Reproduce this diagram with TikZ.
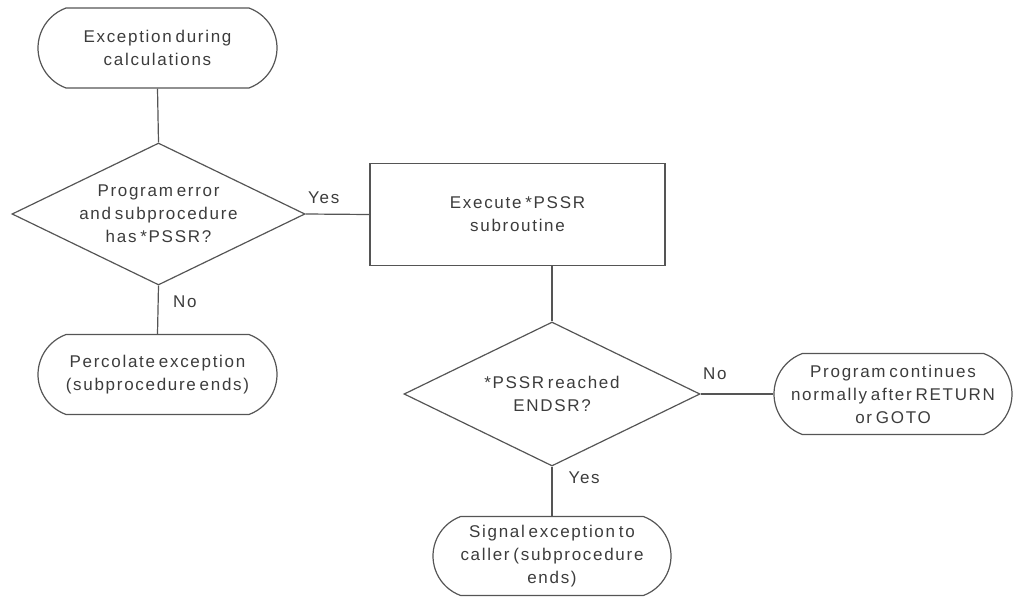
\documentclass[tikz,border=0pt]{standalone}
\usepackage{fontspec}
\setmainfont{Liberation Sans}[LetterSpace=10,WordSpace=0.6]
\usetikzlibrary{shapes.geometric,shapes.misc}
\definecolor{ink}{RGB}{85,85,85}
\definecolor{txt}{RGB}{60,60,60}

\begin{document}
\begin{tikzpicture}[x=1pt,y=-1pt,
  every node/.style={text=txt, font=\fontsize{17}{23}\selectfont},
  terminal/.style={draw=ink, line width=1.2pt, rounded rectangle,
    rounded rectangle arc length=140, minimum width=239pt,
    minimum height=80pt, inner sep=0pt, align=center},
  decision/.style={draw=ink, line width=1.2pt, diamond, aspect=2,
    inner sep=0pt, align=center},
  process/.style={draw=ink, line width=1.2pt, rectangle,
    minimum width=295pt, minimum height=102pt, inner sep=0pt, align=center},
  link/.style={draw=ink, line width=1.2pt},
  answer/.style={inner sep=0pt}
]
\useasboundingbox (0,0) rectangle (1017,597);

% flowchart boxes
\node[terminal] (start) at (157.5,48) {Exception during\\calculations};
\node[decision, minimum width=293pt, minimum height=142pt] (d1) at (158.5,214)
  {Program error\\and subprocedure\\has *PSSR?};
\node[process] (pssr) at (517.5,214.5) {Execute *PSSR\\subroutine};
\node[terminal] (perc) at (157.5,374.5) {Percolate exception\\(subprocedure ends)};
\node[decision, minimum width=296pt, minimum height=144pt] (d2) at (552,394)
  {*PSSR reached\\ENDSR?};
\node[terminal, minimum width=238pt, minimum height=81pt] (cont) at (893,394)
  {Program continues\\normally after RETURN\\or GOTO};
\node[terminal, minimum width=238pt, minimum height=79pt] (signal) at (552,556)
  {Signal exception to\\caller (subprocedure\\ends)};

% connectors
\draw[link] (start.south) -- (d1.north);
\draw[link] (d1.east) -- node[answer, pos=0, anchor=south west, xshift=2pt, yshift=10pt] {Yes} (pssr.west);
\draw[link] (d1.south) -- node[answer, pos=0, anchor=north west, xshift=14pt, yshift=-10pt] {No} (perc.north);
\draw[link] (d2.north |- pssr.south) -- (d2.north);
\draw[link] (d2.east) -- node[answer, pos=0, anchor=south west, xshift=2pt, yshift=14pt] {No} (cont.west);
\draw[link] (d2.south) -- node[answer, pos=0, anchor=north west, xshift=16pt, yshift=-5pt] {Yes} (signal.north);
\end{tikzpicture}
\end{document}
